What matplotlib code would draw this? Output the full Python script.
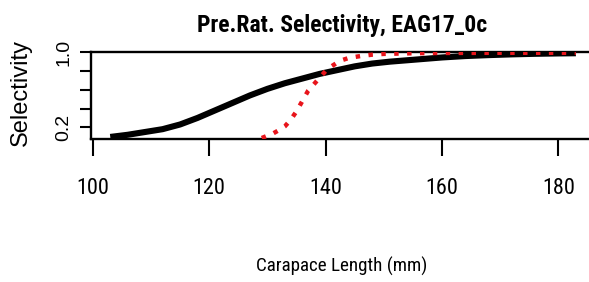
import matplotlib
matplotlib.use("Agg")
import matplotlib.pyplot as plt
from matplotlib import font_manager as fm

# Data
black_x = [103, 106, 109, 112, 115, 118, 121, 124, 127, 130, 133, 136, 139, 142,
           145, 148, 151, 154, 157, 160, 164, 168, 172, 176, 180, 183]
black_y = [0.097, 0.12, 0.15, 0.18, 0.23, 0.30, 0.38, 0.46, 0.54, 0.61, 0.67, 0.72,
           0.77, 0.81, 0.85, 0.88, 0.90, 0.915, 0.93, 0.945, 0.96, 0.97, 0.978,
           0.984, 0.988, 0.99]
red_x = [127, 128, 129, 130, 131, 132, 133, 134, 135, 136, 137, 138, 139, 140,
         141, 142, 143, 144, 146, 148, 150, 155, 160, 170, 183]
red_y = [0.03, 0.06, 0.085, 0.11, 0.135, 0.17, 0.21, 0.28, 0.37, 0.48, 0.59, 0.66,
         0.73, 0.80, 0.85, 0.89, 0.92, 0.94, 0.96, 0.975, 0.983, 0.99, 0.993,
         0.995, 0.995]
x_ticks = [100, 120, 140, 160, 180]
x_ticklabels = ["100", "120", "140", "160", "180"]
y_ticks = [0.2, 0.4, 0.6, 0.8, 1.0]
y_ticklabels = ["0.2", "", "", "", "1.0"]

title = "Pre.Rat. Selectivity, EAG17_0c"
xlabel = "Carapace Length (mm)"
ylabel = "Selectivity"


def has_font(name):
    try:
        fm.findfont(fm.FontProperties(family=name), fallback_to_default=False)
        return True
    except ValueError:
        return False


regular = ["Liberation Sans", "DejaVu Sans"]
if has_font("Liberation Sans Narrow"):
    narrow = ["Liberation Sans Narrow", "Liberation Sans", "DejaVu Sans"]
    fs_title, fs_xtick, fs_xlabel = 18, 17, 15
elif has_font("Roboto Condensed"):
    narrow = ["Roboto Condensed", "Liberation Sans", "DejaVu Sans"]
    fs_title, fs_xtick, fs_xlabel = 17, 16, 13.7
else:
    narrow = regular
    fs_title, fs_xtick, fs_xlabel = 15, 14, 13

W, H = 589, 282
fig = plt.figure(figsize=(W / 100, H / 100), dpi=100)

left_px, right_px = 91, 594.5
top_px, bot_px = 52.3, 139
ax = fig.add_axes([left_px / W, 1 - bot_px / H, (right_px - left_px) / W,
                   (bot_px - top_px) / H])
ax.set_xlim(99.69, 186.2)
ax.set_ylim(0.075, 1.0)

ax.plot(black_x, black_y, color="black", lw=4.4, solid_capstyle="butt", zorder=3)
ax.plot(red_x, red_y, color="#e8141b", lw=3.2, linestyle=(0, (1, 1.9)),
        dash_capstyle="butt", zorder=4)

for s in ax.spines.values():
    s.set_linewidth(1.7)

ax.set_xticks(x_ticks)
ax.set_xticklabels(x_ticklabels, fontfamily=narrow, fontsize=fs_xtick)
ax.set_yticks(y_ticks)
ax.set_yticklabels(y_ticklabels, fontfamily=regular, fontsize=14,
                   rotation=90, va="center")
ax.tick_params(axis="x", length=12.5, width=1.5, pad=15.5)
ax.tick_params(axis="y", length=8, width=1.5, pad=5.5)

fig.text(342 / W, 1 - 32 / H, title, ha="center", va="baseline",
         fontfamily=narrow, fontweight="bold", fontsize=fs_title)
fig.text(342 / W, 1 - 272 / H, xlabel, ha="center", va="baseline",
         fontfamily=narrow, fontsize=fs_xlabel)
fig.text(21 / W, 1 - 92 / H, ylabel, ha="center", va="center", rotation=90,
         fontfamily=regular, fontsize=17)

fig.savefig("out.png", dpi=100)
